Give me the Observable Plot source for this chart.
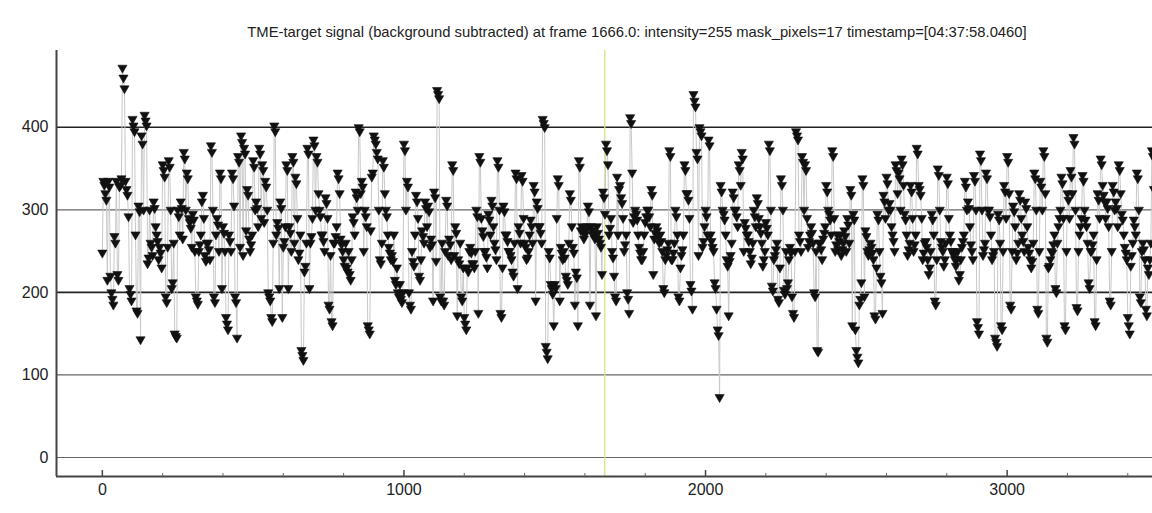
<!DOCTYPE html>
<html>
<head>
<meta charset="utf-8">
<script src="https://cdn.jsdelivr.net/npm/d3@7"></script>
<script src="https://cdn.jsdelivr.net/npm/@observablehq/plot@0.6"></script>
<style>
  html, body { margin: 0; padding: 0; background: #fff; }
  #wrap { width: 1152px; height: 513px; position: relative; overflow: hidden; }
  #title { height: 50px; position: relative; }
  #title span { position: absolute; left: 637px; top: 24px; transform: translateX(-50%); white-space: nowrap;
    font-family: "Liberation Sans", Arial, sans-serif; font-size: 14.8px; line-height: 16px; color: #222; }
</style>
</head>
<body>
<div id="wrap">
  <div id="title"><span>TME-target signal (background subtracted) at frame 1666.0: intensity=255 mask_pixels=17 timestamp=[04:37:58.0460]</span></div>
  <div id="chart"></div>
</div>
<script>
// one reading every 10/3 frames
const frameStep = 10 / 3;
const intensity = [
  248,335,330, 320,312,215, 335,328,220, 200,192,185, 268,260,335, 222,215,328, 330,338,472, 460,447,335, 325,318,292, 205,198,190,
  410,402,395, 270,178,175, 305,298,143, 390,380,300, 415,408,402, 235,242,300, 260,255,245, 310,302,280, 270,262,240, 255,248,230,
  355,348,340, 195,188,255, 360,352,300, 205,212,260, 150,147,145, 300,292,270, 310,302,265, 370,362,300, 345,338,290, 285,278,255,
  295,288,250, 195,190,186, 250,258,270, 310,318,290, 245,238,260, 260,252,240, 378,370,300, 195,188,270, 290,282,250, 345,338,205,
  280,272,250, 170,162,155, 270,262,250, 345,338,305, 195,188,145, 365,358,255, 390,382,245, 375,368,275, 325,318,265, 250,258,270,
  360,352,300, 310,302,280, 375,368,290, 355,348,285, 335,328,300, 200,195,190, 170,165,260, 402,395,270, 285,278,205, 310,302,170,
  255,262,280, 355,348,205, 280,272,250, 365,358,260, 340,332,290, 240,248,270, 130,124,118, 225,232,260, 375,368,205, 260,268,290,
  385,378,300, 365,358,320, 300,292,270, 270,262,250, 315,308,290, 185,180,245, 165,160,260, 260,268,280, 345,338,320, 265,258,250,
  240,232,260, 230,225,250, 222,215,240, 292,285,270, 322,315,300, 400,395,320, 335,328,250, 300,292,280, 160,155,150, 275,340,345,
  390,385,380, 370,362,300, 240,235,260, 360,352,320, 300,292,270, 255,248,240, 245,238,270, 215,210,230, 200,195,210, 192,188,200,
  380,372,300, 335,328,200, 185,180,250, 238,232,270, 318,310,290, 220,215,240, 275,268,260, 310,302,280, 305,298,255, 265,258,190,
  322,315,238, 445,440,435, 195,190,260, 190,185,250, 312,305,245, 265,258,240, 355,348,245, 280,272,172, 240,235,260, 195,190,230,
  170,162,155, 230,225,250, 255,248,235, 235,230,250, 300,292,175, 365,358,290, 275,268,250, 250,243,230, 295,288,270, 312,305,280,
  260,252,240, 360,352,300, 175,170,230, 305,298,270, 270,262,250, 250,245,240, 225,220,260, 345,338,205, 280,272,260, 342,335,290,
  260,255,240, 242,250,270, 288,280,260, 330,322,190, 310,302,280, 280,272,260, 410,405,400, 135,128,120, 250,242,210, 205,198,160,
  210,205,290, 338,330,190, 255,248,240, 250,242,220, 215,210,260, 320,312,280, 255,248,185, 225,218,160, 360,352,275, 280,275,265,
  270,275,280, 305,298,185, 280,275,270, 270,265,172, 280,272,265, 260,255,222, 322,315,295, 380,372,355, 270,278,290, 250,242,220,
  195,190,340, 270,325,330, 315,308,290, 250,258,270, 200,192,175, 412,405,345, 285,292,300, 295,288,270, 255,248,240, 240,250,270,
  285,292,300, 300,292,280, 325,318,222, 265,272,280, 275,268,260, 270,262,250, 205,200,240, 245,252,260, 372,365,240, 240,248,260,
  300,292,270, 195,190,230, 245,252,270, 355,348,320, 320,312,290, 210,202,180, 440,432,425, 370,362,245, 400,395,390, 255,262,280,
  300,292,270, 385,378,270, 262,255,250, 212,205,180, 155,148,73,  330,322,300, 295,288,270, 240,232,172, 238,245,260, 322,315,300,
  300,292,280, 355,348,330, 370,362,250, 285,278,270, 270,262,250, 235,242,260, 300,292,280, 315,308,290, 280,272,260, 232,240,250,
  285,278,270, 380,372,300, 208,202,240, 245,252,260, 192,188,230, 338,330,300, 203,198,250, 205,212,240, 255,248,195, 175,170,250,
  395,390,385, 270,262,250, 365,358,300, 355,348,290, 255,262,270, 280,272,260, 200,195,250, 130,128,260, 260,252,240, 265,272,280,
  330,322,300, 295,288,270, 372,365,290, 250,258,270, 252,262,270, 245,252,260, 275,268,250, 290,282,260, 325,318,160, 295,288,155,
  130,122,115, 185,192,212, 338,330,195, 275,268,250, 245,252,260, 255,248,240, 172,168,230, 295,288,250, 220,212,175, 318,310,290,
  340,332,300, 308,300,280, 270,262,250, 355,348,320, 345,338,300, 362,355,330, 295,288,270, 245,252,260, 330,322,290, 250,258,270,
  375,368,330, 325,318,290, 240,248,260, 262,255,240, 222,230,250, 295,288,270, 190,185,240, 350,342,300, 262,255,250, 232,240,260,
  340,332,290, 270,262,250, 250,245,240, 232,240,250, 215,222,240, 255,262,270, 335,328,300, 310,302,280, 258,250,240, 342,335,300,
  165,158,150, 368,360,300, 245,252,260, 345,338,300, 300,292,270, 240,245,250, 145,140,135, 295,288,260, 160,155,250, 330,322,290,
  365,358,320, 185,180,250, 305,298,280, 240,248,260, 320,312,290, 270,262,250, 310,302,280, 255,248,240, 230,238,260, 345,338,300,
  180,175,250, 335,328,300, 372,365,320, 145,140,230, 232,240,250, 248,258,270, 205,200,260, 280,290,300, 340,332,290, 160,155,250,
  320,312,290, 348,340,320, 388,380,300, 182,178,250, 270,280,290, 342,335,300, 288,280,260, 212,205,250, 250,258,270, 165,160,240,
  320,312,290, 362,355,330, 318,310,290, 310,302,280, 190,185,250, 330,322,300, 310,302,280, 355,348,320, 295,288,270, 255,248,240,
  170,160,150, 232,245,260, 288,280,270, 345,338,300, 195,188,250, 260,252,240, 180,172,230, 222,240,260, 372,365,325
];
const frames = intensity.map((_, i) => i * frameStep);
const yTicks = [0, 100, 200, 300, 400];
const yGridStrong = [200, 400];
const yGridLight = [0, 100, 300];
const xTicks = [0, 1000, 2000, 3000];
const xMinorTicks = [200, 400, 600, 800, 1200, 1400, 1600, 1800, 2200, 2400, 2600, 2800, 3200, 3400];
const currentFrame = [1666];
const xDomain = [-152, 3482];
const yDomain = [-23, 493];

const data = frames.map((f, i) => ({frame: f, value: intensity[i]}));

const chart = Plot.plot({
  width: 1152,
  height: 463,
  marginLeft: 56,
  marginRight: 0,
  marginTop: 0,
  marginBottom: 37,
  x: {domain: xDomain},
  y: {domain: yDomain},
  style: {fontFamily: "Liberation Sans, Arial, sans-serif", fontSize: "16px", color: "#222", background: "#fff", overflow: "visible"},
  marks: [
    Plot.ruleY(yGridLight, {stroke: "#666", strokeWidth: 1.2}),
    Plot.ruleY(yGridStrong, {stroke: "#222", strokeWidth: 1.6}),
    Plot.ruleX(currentFrame, {stroke: "#dbe08a", strokeWidth: 1.3}),
    Plot.line(data, {x: "frame", y: "value", stroke: "#c8c8c8", strokeWidth: 1, clip: true}),
    Plot.dot(data, {x: "frame", y: "value", symbol: "triangle", rotate: 180, r: 3.4, fill: "#111", stroke: "#111", strokeWidth: 0.6, clip: true}),
    Plot.ruleX([xDomain[0]], {stroke: "#444", strokeWidth: 2}),
    Plot.ruleY([yDomain[0]], {stroke: "#444", strokeWidth: 2}),
    Plot.axisY({ticks: yTicks, tickSize: 0, tickPadding: 8, label: null}),
    Plot.axisX({ticks: xTicks, tickSize: 0, tickPadding: 7, tickFormat: d3.format("d"), label: null}),
    Plot.axisX({ticks: xTicks, tickSize: 6, dy: -6, tickFormat: () => "", label: null, stroke: "#444", strokeWidth: 1.5}),
    Plot.axisX({ticks: xMinorTicks, tickSize: 3, dy: -3, tickFormat: () => "", label: null, stroke: "#666"})
  ]
});
document.getElementById("chart").appendChild(chart);
</script>
</body>
</html>
